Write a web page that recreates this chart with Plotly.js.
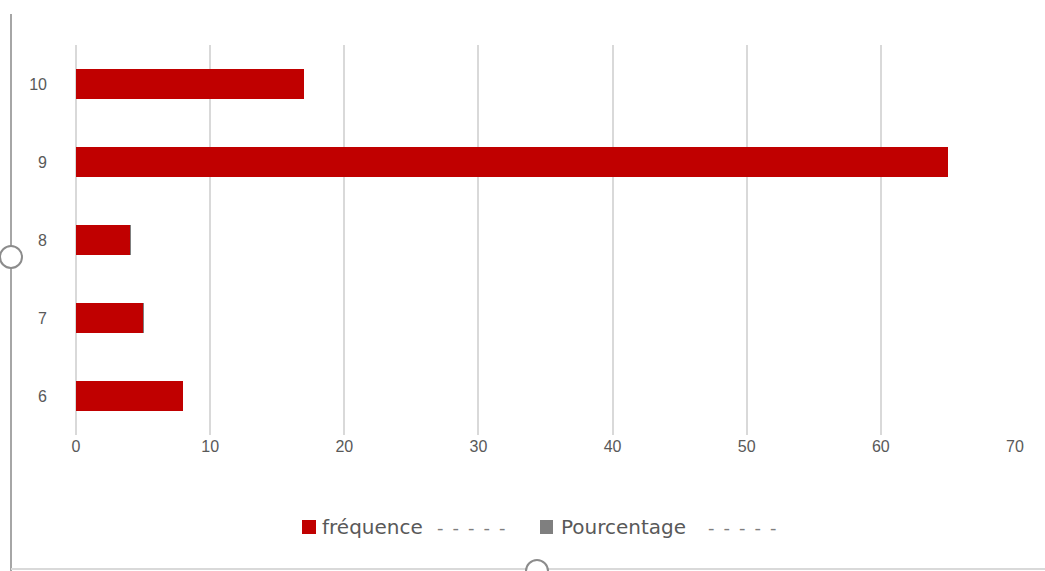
<!DOCTYPE html>
<html>
<head>
<meta charset="utf-8">
<script src="https://cdn.plot.ly/plotly-3.0.1.min.js"></script>
<style>html,body{margin:0;padding:0;background:#fff;}#chart{width:1045px;height:571px;}</style>
</head>
<body>
<div id="chart"></div>
<script>
var categories = ["6", "7", "8", "9", "10"];
var frequence = [8, 5, 4, 65, 17];
var pourcentage = [0, 0.08, 0.08, 0, 0];
var seriesNames = ["fréquence", "Pourcentage"];
var legendDashes = "-\u2002-\u2002-\u2002-\u2002-";
var seriesColors = ["#c00000", "#7f7f7f"];
var xTicks = [0, 10, 20, 30, 40, 50, 60, 70];

var W = 1045, H = 571;
var L = 76, R = 30, T = 45, B = 136;
var PW = W - L - R, PH = H - T - B;
function px(x){ return (x - L) / PW; }
function py(y){ return (H - B - y) / PH; }

var traces = [
  {type: "bar", orientation: "h", y: categories, x: frequence, name: seriesNames[0],
   marker: {color: seriesColors[0]}, hoverinfo: "x+y"},
  {type: "bar", orientation: "h", y: categories, x: pourcentage, name: seriesNames[1],
   marker: {color: seriesColors[1]}, hoverinfo: "x+y"}
];

var legendFont = {family: "DejaVu Sans, Verdana, sans-serif", size: 20, color: "#595959"};
var dashFont = {family: "DejaVu Sans, Verdana, sans-serif", size: 18, color: "#7f7f7f"};

function legendAnn(x, text, font){
  return {xref: "paper", yref: "paper", x: px(x), y: py(527), xanchor: "left", yanchor: "middle",
          text: text, showarrow: false, font: font, xshift: -2};
}

var layout = {
  width: W, height: H,
  margin: {l: L, r: R, t: T, b: B},
  paper_bgcolor: "#ffffff", plot_bgcolor: "#ffffff",
  barmode: "stack",
  bargap: 0.61,
  font: {family: "Liberation Sans, Arial, sans-serif", size: 16, color: "#595959"},
  showlegend: false,
  xaxis: {range: [0, 70], tickvals: xTicks, ticktext: xTicks.map(String),
          showgrid: true, gridcolor: "#d9d9d9", gridwidth: 2, zeroline: true,
          zerolinecolor: "#d9d9d9", zerolinewidth: 2, showline: false,
          ticks: "", ticklabelstandoff: 0, fixedrange: true,
          tickfont: {size: 16, color: "#595959"}},
  yaxis: {type: "category", categoryorder: "array", categoryarray: categories,
          showgrid: false, zeroline: false, showline: false, ticks: "",
          ticklabelstandoff: 28, fixedrange: true,
          tickfont: {size: 16, color: "#595959"}},
  annotations: [
    legendAnn(322, seriesNames[0], legendFont),
    legendAnn(437, legendDashes, dashFont),
    legendAnn(561, seriesNames[1], legendFont),
    legendAnn(708, legendDashes, dashFont)
  ],
  shapes: [
    {type: "rect", xref: "paper", yref: "paper", x0: px(302), x1: px(316), y0: py(534), y1: py(520),
     line: {width: 0}, fillcolor: seriesColors[0]},
    {type: "rect", xref: "paper", yref: "paper", x0: px(540), x1: px(553), y0: py(534), y1: py(520),
     line: {width: 0}, fillcolor: seriesColors[1]},
    {type: "line", xref: "paper", yref: "paper", x0: px(11), x1: px(11), y0: py(14), y1: py(571),
     line: {color: "#a6a6a6", width: 2}},
    {type: "line", xref: "paper", yref: "paper", x0: px(11), x1: px(1045), y0: py(569), y1: py(569),
     line: {color: "#d9d9d9", width: 2}},
    {type: "circle", xref: "paper", yref: "paper", x0: px(0), x1: px(22), y0: py(268), y1: py(246),
     line: {color: "#8c8c8c", width: 2}, fillcolor: "#ffffff"},
    {type: "circle", xref: "paper", yref: "paper", x0: px(526), x1: px(548), y0: py(582), y1: py(560),
     line: {color: "#8c8c8c", width: 2}, fillcolor: "#ffffff"}
  ]
};

Plotly.newPlot("chart", traces, layout, {displayModeBar: false, staticPlot: true});
</script>
</body>
</html>
